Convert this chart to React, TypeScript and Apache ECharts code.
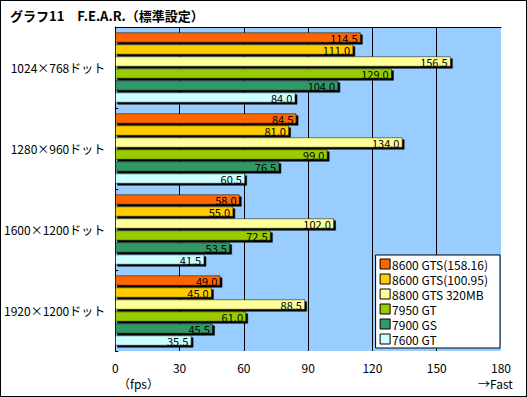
import React, { useEffect, useRef } from "react";
import * as echarts from "echarts";

const categories = ["1024×768ドット", "1280×960ドット", "1600×1200ドット", "1920×1200ドット"];
const seriesNames = ["8600 GTS(158.16)", "8600 GTS(100.95)", "8800 GTS 320MB", "7950 GT", "7900 GS", "7600 GT"];
const gts158 = [114.5, 84.5, 58.0, 49.0];
const gts100 = [111.0, 81.0, 55.0, 45.0];
const gts8800 = [156.5, 134.0, 102.0, 88.5];
const gt7950 = [129.0, 99.0, 72.5, 61.0];
const gs7900 = [104.0, 76.5, 53.5, 45.5];
const gt7600 = [84.0, 60.5, 41.5, 35.5];
const colors = ["#FF6600", "#FFCC00", "#FFFF99", "#99CC00", "#339966", "#CCFFFF"];
const xTicks = { min: 0, max: 180, interval: 30 };

const FONT = "'Noto Sans CJK JP', sans-serif";

export default function App() {
  const ref = useRef<HTMLDivElement>(null);
  useEffect(() => {
    document.body.style.margin = "0";
    const chart = echarts.init(ref.current!, null, { renderer: "svg" });
    const data = [gts158, gts100, gts8800, gt7950, gs7900, gt7600];
    chart.setOption({
      animation: false,
      backgroundColor: "#ffffff",
      textStyle: { fontFamily: FONT },
      title: {
        text: "グラフ11　F.E.A.R.（標準設定）",
        left: 4,
        top: 3,
        textStyle: { fontSize: 13, fontWeight: "bold", color: "#000", fontFamily: FONT },
      },
      grid: {
        left: 112,
        right: 25,
        top: 26,
        bottom: 45,
        show: true,
        backgroundColor: "#99CCFF",
        borderWidth: 0,
      },
      legend: {
        orient: "vertical",
        right: 26,
        bottom: 48,
        itemWidth: 10,
        itemHeight: 10,
        itemGap: 1,
        padding: [2, 12, 2, 4],
        icon: "rect",
        backgroundColor: "#ffffff",
        borderColor: "#000",
        borderWidth: 1,
        textStyle: { fontSize: 12, lineHeight: 14, color: "#000", fontFamily: FONT, padding: [0, 0, 0, -3] },
        itemStyle: { borderColor: "#000", borderWidth: 1, shadowBlur: 0, shadowOffsetX: 0, shadowOffsetY: 0, shadowColor: "rgba(0,0,0,0)" },
        data: seriesNames,
      },
      xAxis: [
        {
          type: "value",
          position: "bottom",
          min: xTicks.min,
          max: xTicks.max,
          interval: xTicks.interval,
          axisLine: { show: false },
          axisTick: { show: false },
          axisLabel: { color: "#000", fontSize: 12, margin: 10, fontFamily: FONT },
          splitLine: { show: true, showMinLine: false, showMaxLine: false, lineStyle: { color: "#000", width: 1 } },
        },
        {
          type: "value",
          position: "top",
          min: xTicks.min,
          max: xTicks.max,
          interval: xTicks.interval,
          axisLine: { show: true, lineStyle: { color: "#000", width: 1 } },
          axisTick: { show: false },
          axisLabel: { show: false },
          splitLine: { show: false },
        },
      ],
      yAxis: {
        type: "category",
        data: categories,
        inverse: true,
        axisLine: { show: true, lineStyle: { color: "#000", width: 1 } },
        axisTick: { show: true, inside: true, length: 3, lineStyle: { color: "#000" } },
        axisLabel: { color: "#000", fontSize: 12, margin: 10, fontFamily: FONT },
        splitLine: { show: false },
      },
      series: seriesNames.map((name, i) => ({
        name,
        type: "bar",
        data: data[i],
        barWidth: 10,
        barGap: "20%",
        itemStyle: {
          color: colors[i],
          borderColor: "#000",
          borderWidth: 0.5,
          shadowColor: "#000",
          shadowBlur: 0,
          shadowOffsetX: 2,
          shadowOffsetY: 2,
        },
        label: {
          show: true,
          position: "insideRight",
          distance: 3,
          color: "#000",
          fontSize: 11,
          lineHeight: 10,
          fontFamily: FONT,
          formatter: (p: any) => Number(p.value).toFixed(1),
        },
      })),
      graphic: [
        {
          type: "text",
          left: 117,
          top: 376,
          style: { text: "（fps）", fontSize: 12, fill: "#000", fontFamily: FONT },
        },
        {
          type: "text",
          left: 477,
          top: 376,
          style: { text: "→Fast", fontSize: 12, fill: "#000", fontFamily: FONT },
        },
      ],
    });
    return () => chart.dispose();
  }, []);
  return (
    <div
      ref={ref}
      style={{
        position: "absolute",
        left: 0,
        top: 0,
        width: 527,
        height: 397,
        boxSizing: "border-box",
        border: "1px solid #000",
      }}
    />
  );
}
